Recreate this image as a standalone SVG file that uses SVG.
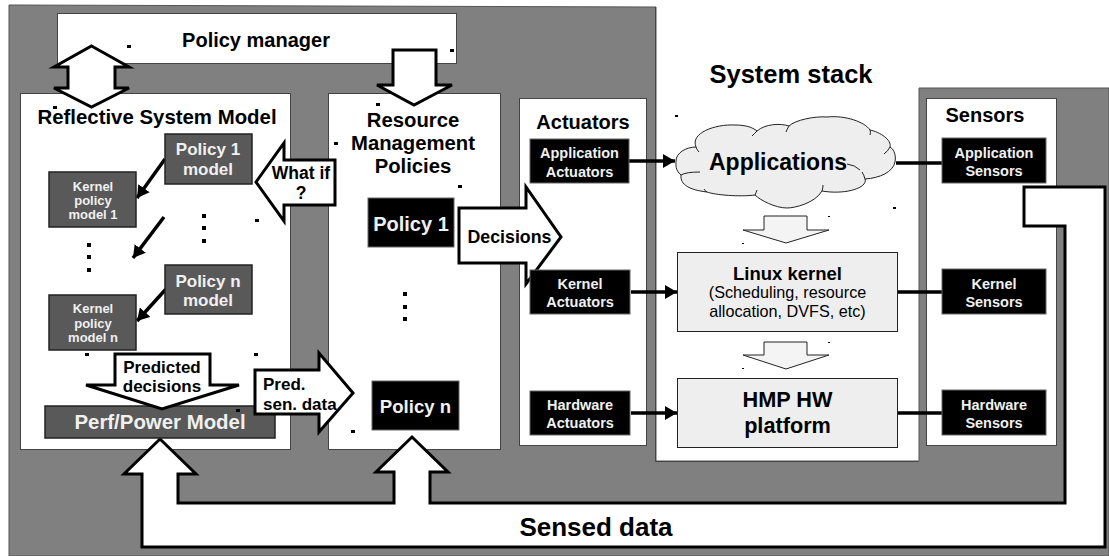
<svg xmlns="http://www.w3.org/2000/svg" width="1109" height="556" viewBox="0 0 1109 556">
<style>
text{font-family:"Liberation Sans",Arial,sans-serif;font-weight:bold;text-anchor:middle;fill:#000}
.panel{fill:#fff;stroke:#444;stroke-width:1}
.dark{fill:#595959;stroke:#222;stroke-width:1.5}
.black{fill:#000;stroke:#666;stroke-width:1}
.light{fill:#eee;stroke:#222;stroke-width:1}
.w{fill:#f0f0f0}
.big{fill:#fff;stroke:#000;stroke-width:3;stroke-linejoin:miter}
.small{fill:#f4f4f4;stroke:#222;stroke-width:1}
.ln{stroke:#000;stroke-width:3.500;fill:none}
.d{fill:#000}
</style>
<defs>
<marker id="ah" markerUnits="userSpaceOnUse" markerWidth="13" markerHeight="14" refX="12" refY="7" orient="auto"><path d="M0,0L12,7L0,14Z" fill="#000"/></marker>
</defs>
<rect width="1109" height="556" fill="#fff"/>
<g id="background">
<path d="M9,5L656,7V461H919V88H1109V556H9Z" fill="#808080" stroke="#555" stroke-width="1"/>
<path d="M655.500,7V461.500H918.500" fill="none" stroke="#444" stroke-width="1"/>
</g>
<g id="policy-manager">
<rect class="panel" x="57.500" y="13.500" width="399" height="50"/>
<text x="256" y="47" font-size="20">Policy manager</text>
</g>
<g id="reflective-system-model">
<rect class="panel" x="20.500" y="93.500" width="270" height="356"/>
<text x="157" y="124" font-size="20.400">Reflective System Model</text>
</g>
<g id="resource-management">
<rect class="panel" x="328.500" y="93.500" width="172" height="356"/>
<text x="413" y="127" font-size="20.300">Resource</text>
<text x="413" y="150" font-size="20.300">Management</text>
<text x="413" y="173" font-size="20.300">Policies</text>
</g>
<g id="actuators">
<rect class="panel" x="519.500" y="98.500" width="127" height="347"/>
<text x="583" y="129" font-size="20">Actuators</text>
</g>
<g id="sensors">
<rect class="panel" x="926.500" y="98.500" width="130" height="347"/>
<text x="985" y="122" font-size="20">Sensors</text>
</g>
<text id="system-stack-title" x="791" y="83" font-size="25.500">System stack</text>
<g id="connectors">
<path class="big" d="M91.500,46L129,67H115V88H129L91.500,107L54,88H68V67H54Z"/>
<path class="big" d="M393,50H436V85H452L414,105L377,85H393Z"/>
<path class="ln" d="M165,159L137,198" marker-end="url(#ah)"/>
<path class="ln" d="M164,217L133,258" marker-end="url(#ah)"/>
<path class="ln" d="M166,289L137,321" marker-end="url(#ah)"/>
<path class="ln" d="M629,161H675" marker-end="url(#ah)"/>
<path class="ln" d="M631,292H677" marker-end="url(#ah)"/>
<path class="ln" d="M631,413H677" marker-end="url(#ah)"/>
<path class="ln" d="M896,163H942M896,292H942M896,413H942"/>
<path class="big" d="M160,439L196,474H178V503H394V472H376L412,437L448,472H430V503H1065V226H1024V187H1105V547H142V474H124Z"/>
<path class="big" d="M256,182L284,143V160H335V205H284V221Z"/>
<path class="big" d="M459,208H526V187L561,237L526,284V263H459Z"/>
</g>
<g id="policy-1-model">
<rect class="dark" x="165" y="134" width="87" height="50"/>
<text class="w" x="208" y="155" font-size="17">Policy 1</text>
<text class="w" x="208" y="175" font-size="17">model</text>
</g>
<g id="kernel-policy-model-1">
<rect class="dark" x="49" y="172" width="87" height="55"/>
<text class="w" x="93" y="191" font-size="13">Kernel</text>
<text class="w" x="93" y="205" font-size="13">policy</text>
<text class="w" x="93" y="219" font-size="13">model 1</text>
</g>
<g id="policy-n-model">
<rect class="dark" x="165" y="265" width="87" height="49"/>
<text class="w" x="208" y="287" font-size="17">Policy n</text>
<text class="w" x="208" y="306" font-size="17">model</text>
</g>
<g id="kernel-policy-model-n">
<rect class="dark" x="49" y="295" width="87" height="55"/>
<text class="w" x="93" y="313" font-size="13">Kernel</text>
<text class="w" x="93" y="328" font-size="13">policy</text>
<text class="w" x="93" y="342" font-size="13">model n</text>
</g>
<g id="perf-power-model">
<rect class="dark" x="45" y="406" width="230" height="32"/>
<text class="w" x="160" y="429" font-size="20.400">Perf/Power Model</text>
</g>
<g id="predicted-decisions">
<path class="big" d="M115,354H210V385H239L162,409L86,385H115Z"/>
<text x="162" y="373" font-size="17">Predicted</text>
<text x="162" y="392" font-size="17">decisions</text>
</g>
<g id="pred-sen-data">
<path class="big" d="M255,370H319V353L353,393L319,432V414H255Z"/>
<text x="263" y="390" font-size="17" style="text-anchor:start">Pred.</text>
<text x="263" y="410" font-size="17" style="text-anchor:start">sen. data</text>
</g>
<g id="what-if-label">
<text x="301" y="179" font-size="17.500">What if</text>
<text x="301" y="199" font-size="17.500">?</text>
</g>
<text id="decisions-label" x="509.500" y="243" font-size="17.800">Decisions</text>
<g id="policy-1">
<rect class="black" x="368" y="198" width="86" height="49"/>
<text class="w" x="411" y="231" font-size="20">Policy 1</text>
</g>
<g id="policy-n">
<rect class="black" x="372" y="381" width="87" height="49"/>
<text class="w" x="415.500" y="413" font-size="18.600">Policy n</text>
</g>
<g id="application-actuators">
<rect class="black" x="530" y="139" width="99" height="44"/>
<text class="w" x="579.500" y="158" font-size="14.500">Application</text>
<text class="w" x="579.500" y="177" font-size="14.500">Actuators</text>
</g>
<g id="kernel-actuators">
<rect class="black" x="530" y="270" width="100" height="44"/>
<text class="w" x="580" y="289" font-size="14.500">Kernel</text>
<text class="w" x="580" y="307" font-size="14.500">Actuators</text>
</g>
<g id="hardware-actuators">
<rect class="black" x="530" y="391" width="100" height="44"/>
<text class="w" x="580" y="410" font-size="14.500">Hardware</text>
<text class="w" x="580" y="428" font-size="14.500">Actuators</text>
</g>
<g id="applications">
<path d="M676,161C676,153 686,147 696,147C690,133 715,124 735,125C745,125 752,127 757,131C765,124 780,123 789,126C795,120 815,116 827,117C845,115 865,122 870,130C880,132 892,140 890,147C895,150 896,157 895,162C893,172 880,178 865,179C868,188 845,195 822,191C815,203 795,208 787,208C775,208 760,200 755,195C740,197 715,195 707,192C690,190 680,185 681,175C675,170 676,165 676,161Z" fill="#eee" stroke="#222" stroke-width="1"/>
<path d="M696,147Q697,150 699,152M757,131Q754,134 752,136M789,126Q787,129 786,132M870,130Q871,132 870,135M890,147Q888,151 884,154M865,179Q864,175 862,172M822,191Q823,188 823,185M755,195Q756,193 757,190M707,192Q705,191 704,189M681,175Q686,172 700,172M847,164Q855,165 860,170" fill="none" stroke="#222" stroke-width="1"/>
<text x="778" y="170" font-size="23">Applications</text>
</g>
<path id="arrow-apps-kernel" class="small" d="M764,216H807V230H829L786,243L743,230H764Z"/>
<g id="linux-kernel">
<rect class="light" x="677.500" y="252.500" width="220" height="79"/>
<text x="787.500" y="280" font-size="18.500">Linux kernel</text>
<text x="787.500" y="298" font-size="16.200" style="font-weight:normal">(Scheduling, resource</text>
<text x="787.500" y="317" font-size="16.200" style="font-weight:normal">allocation, DVFS, etc)</text>
</g>
<path id="arrow-kernel-hw" class="small" d="M764,342H807V355H829L786,369L743,355H764Z"/>
<g id="hmp-hw-platform">
<rect class="light" x="677.500" y="378.500" width="220" height="69"/>
<text x="787.500" y="407" font-size="21.700">HMP HW</text>
<text x="787.500" y="433" font-size="21.700">platform</text>
</g>
<g id="application-sensors">
<rect class="black" x="942" y="138" width="104" height="45"/>
<text class="w" x="994" y="158" font-size="14.500">Application</text>
<text class="w" x="994" y="176" font-size="14.500">Sensors</text>
</g>
<g id="kernel-sensors">
<rect class="black" x="942" y="269" width="104" height="45"/>
<text class="w" x="994" y="289" font-size="14.500">Kernel</text>
<text class="w" x="994" y="307" font-size="14.500">Sensors</text>
</g>
<g id="hardware-sensors">
<rect class="black" x="942" y="390" width="104" height="45"/>
<text class="w" x="994" y="410" font-size="14.500">Hardware</text>
<text class="w" x="994" y="428" font-size="14.500">Sensors</text>
</g>
<text id="sensed-data" x="596" y="536" font-size="26">Sensed data</text>
<g id="dots">
<rect class="d" x="127" y="45" width="4" height="3"/><rect class="d" x="53" y="106" width="4" height="3"/>
<rect class="d" x="450" y="49" width="4" height="3"/><rect class="d" x="376" y="103" width="4" height="3"/>
<rect class="d" x="334" y="142" width="4" height="3"/><rect class="d" x="458" y="185" width="4" height="3"/>
<rect class="d" x="255" y="219" width="4" height="3"/>
<rect class="d" x="202" y="214" width="4" height="4"/><rect class="d" x="202" y="226" width="4" height="4"/><rect class="d" x="202" y="239" width="4" height="4"/>
<rect class="d" x="87" y="243" width="4" height="4"/><rect class="d" x="87" y="255" width="4" height="4"/><rect class="d" x="87" y="268" width="4" height="4"/>
<rect class="d" x="85" y="353" width="4" height="3"/><rect class="d" x="254" y="353" width="4" height="3"/>
<rect class="d" x="236" y="409" width="4" height="3"/><rect class="d" x="351" y="430" width="4" height="3"/>
<rect class="d" x="403" y="292" width="4" height="4"/><rect class="d" x="403" y="305" width="4" height="4"/><rect class="d" x="403" y="317" width="4" height="4"/>
<rect class="d" x="675" y="115" width="3" height="2"/><rect class="d" x="893" y="207" width="3" height="2"/>
<rect class="d" x="828" y="216" width="2" height="1"/><rect class="d" x="742" y="243" width="2" height="1"/>
<rect class="d" x="828" y="342" width="2" height="1"/><rect class="d" x="742" y="368" width="2" height="1"/>
</g>
</svg>
